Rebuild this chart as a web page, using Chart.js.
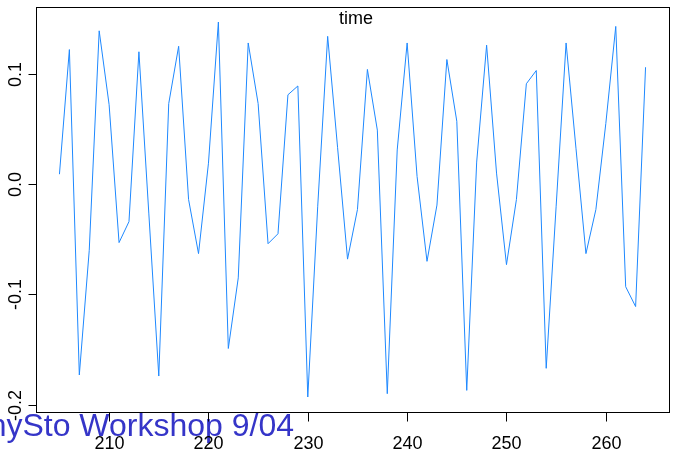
<!DOCTYPE html>
<html>
<head>
<meta charset="utf-8">
<script src="https://cdn.jsdelivr.net/npm/chart.js@4/dist/chart.umd.min.js"></script>
<style>
html,body{margin:0;padding:0;background:#fff;}
#wrap{position:relative;width:675px;height:458px;}
</style>
</head>
<body>
<div id="wrap"><canvas id="c" width="675" height="458"></canvas></div>
<script>
const startTime = 205;
const values = [
  0.009, 0.122, -0.173, -0.060, 0.139, 0.072, -0.053, -0.034, 0.120, -0.027,
  -0.174, 0.073, 0.125, -0.014, -0.063, 0.019, 0.147, -0.149, -0.085, 0.128,
  0.073, -0.054, -0.045, 0.081, 0.089, -0.193, -0.020, 0.134, 0.033, -0.068,
  -0.023, 0.104, 0.049, -0.190, 0.031, 0.128, 0.007, -0.070, -0.019, 0.113,
  0.057, -0.187, 0.020, 0.126, 0.010, -0.073, -0.014, 0.091, 0.103, -0.167,
  -0.020, 0.128, 0.032, -0.063, -0.023, 0.055, 0.143, -0.093, -0.111, 0.106
];
const xTicks = [210, 220, 230, 240, 250, 260];
const yTicks = [-0.2, -0.1, 0.0, 0.1];
const yTickLabels = ["-0.2", "-0.1", "0.0", "0.1"];
const titleText = "time";
const footerText = "nySto Workshop 9/04";

const times = values.map((v, i) => startTime + i);
const points = times.map((t, i) => ({x: t, y: values[i]}));

// R-style 4% axis extension
const tMin = Math.min(...times), tMax = Math.max(...times);
const vMin = Math.min(...values), vMax = Math.max(...values);
const xr = tMax - tMin, yr = vMax - vMin;

const FONT = '"Liberation Sans", Arial, sans-serif';

const rAxes = {
  id: 'rAxes',
  beforeDatasetsDraw(chart) {
    const ctx = chart.ctx;
    ctx.save();
    ctx.font = '32px ' + FONT;
    ctx.fillStyle = '#3535C8';
    ctx.textAlign = 'right';
    ctx.textBaseline = 'alphabetic';
    ctx.fillText(footerText, 294, 436);
    ctx.restore();
  },
  afterDraw(chart) {
    const ctx = chart.ctx;
    const a = chart.chartArea;
    const xs = chart.scales.x, ys = chart.scales.y;
    ctx.save();
    ctx.strokeStyle = '#000';
    ctx.lineWidth = 1;
    ctx.strokeRect(Math.round(a.left) + 0.5, Math.round(a.top) + 0.5,
                   Math.round(a.right - a.left), Math.round(a.bottom - a.top));
    ctx.fillStyle = '#000';
    ctx.font = '18px ' + FONT;
    // x ticks
    ctx.textAlign = 'center';
    ctx.textBaseline = 'alphabetic';
    xTicks.forEach(t => {
      const px = Math.round(xs.getPixelForValue(t)) + 0.5;
      ctx.beginPath();
      ctx.moveTo(px, Math.round(a.bottom) + 0.5);
      ctx.lineTo(px, Math.round(a.bottom) + 9.5);
      ctx.stroke();
      ctx.fillText(String(t), px, 449);
    });
    // y ticks
    yTicks.forEach((v, i) => {
      const py = Math.round(ys.getPixelForValue(v)) + 0.5;
      ctx.beginPath();
      ctx.moveTo(Math.round(a.left) + 0.5, py);
      ctx.lineTo(Math.round(a.left) - 7.5, py);
      ctx.stroke();
      ctx.save();
      ctx.translate(21, py);
      ctx.rotate(-Math.PI / 2);
      ctx.textAlign = 'center';
      ctx.textBaseline = 'alphabetic';
      ctx.fillText(yTickLabels[i], 0, 0);
      ctx.restore();
    });
    // title
    ctx.textAlign = 'center';
    ctx.fillText(titleText, 356, 24);
    ctx.restore();
  }
};

new Chart(document.getElementById('c'), {
  type: 'line',
  data: {
    datasets: [{
      data: points,
      borderColor: '#1E88FF',
      borderWidth: 1,
      pointRadius: 0,
      tension: 0,
      fill: false
    }]
  },
  options: {
    responsive: false,
    animation: false,
    devicePixelRatio: 1,
    layout: {padding: {left: 36, top: 7, right: 6, bottom: 46}},
    plugins: {legend: {display: false}, tooltip: {enabled: false}, title: {display: false}},
    scales: {
      x: {type: 'linear', display: false, min: tMin - 0.04 * xr, max: tMax + 0.04 * xr},
      y: {type: 'linear', display: false, min: vMin - 0.04 * yr, max: vMax + 0.04 * yr}
    }
  },
  plugins: [rAxes]
});
</script>
</body>
</html>
